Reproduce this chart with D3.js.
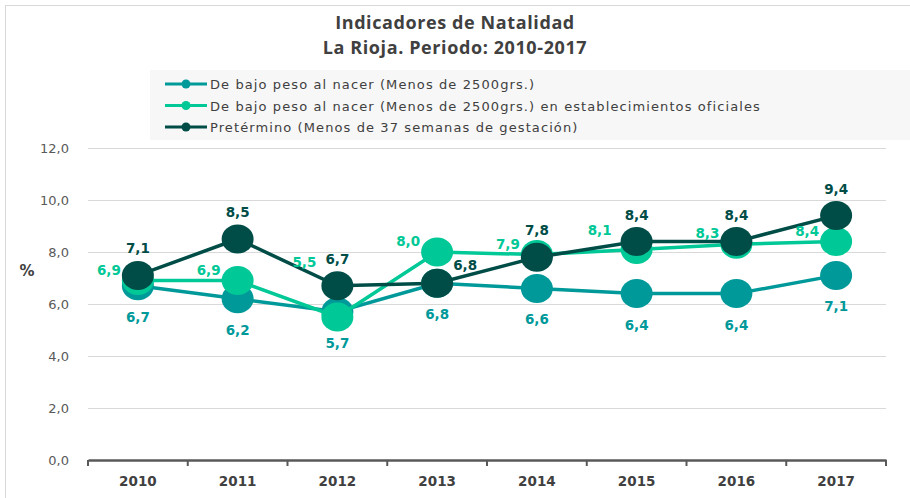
<!DOCTYPE html>
<html>
<head>
<meta charset="utf-8">
<script src="https://cdn.jsdelivr.net/npm/d3@7"></script>
<style>
  body { margin: 0; background: #fff; }
  svg { display: block; }
</style>
</head>
<body>
<div id="chart"></div>
<script>
// data
var years = ["2010", "2011", "2012", "2013", "2014", "2015", "2016", "2017"];
var bajoPeso = [6.7, 6.2, 5.7, 6.8, 6.6, 6.4, 6.4, 7.1];
var bajoPesoOficiales = [6.9, 6.9, 5.5, 8.0, 7.9, 8.1, 8.3, 8.4];
var pretermino = [7.1, 8.5, 6.7, 6.8, 7.8, 8.4, 8.4, 9.4];
var yTicks = [0, 2, 4, 6, 8, 10, 12];
var seriesNames = [
  "De bajo peso al nacer (Menos de 2500grs.)",
  "De bajo peso al nacer (Menos de 2500grs.) en establecimientos oficiales",
  "Pretérmino (Menos de 37 semanas de gestación)"
];

var W = 910, H = 498;
var margin = {top: 148, right: 24, bottom: 38, left: 88},
    width = W - margin.left - margin.right,
    height = H - margin.top - margin.bottom;

var colors = ["#00999a", "#00c896", "#004d47"];
var font = "'DejaVu Sans', Verdana, sans-serif";

var series = [
  {name: seriesNames[0], values: bajoPeso, color: colors[0], pos: "below"},
  {name: seriesNames[1], values: bajoPesoOficiales, color: colors[1], pos: "left"},
  {name: seriesNames[2], values: pretermino, color: colors[2], pos: "above"}
];

// a few labels that the original had moved by hand
var nudge = {"1-2012": [-4, -44], "1-2015": [-8, -8], "2-2013": [28, 9]};

var svg = d3.select("#chart").append("svg")
  .attr("width", W).attr("height", H);

// chart border (only top/left visible)
svg.append("rect")
  .attr("x", 5.5).attr("y", 5.5)
  .attr("width", W + 10).attr("height", H + 10)
  .attr("fill", "none").attr("stroke", "#d9d9d9");

// titles
var title = svg.append("text")
  .attr("text-anchor", "middle")
  .style("font-family", "'Open Sans', sans-serif")
  .style("font-weight", "bold")
  .style("font-size", "18px")
  .style("letter-spacing", "0.6px")
  .style("fill", "#404040");
title.append("tspan").attr("x", 455).attr("y", 29).text("Indicadores de Natalidad");
title.append("tspan").attr("x", 455).attr("y", 54).text("La Rioja. Periodo: 2010-2017");

// legend box
var legend = svg.append("g");
legend.append("rect")
  .attr("x", 150).attr("y", 70).attr("width", 760).attr("height", 70)
  .attr("fill", "#f7f7f7");
series.forEach(function(s, i) {
  var ly = 84 + i * 21.5;
  legend.append("line")
    .attr("x1", 165).attr("x2", 207).attr("y1", ly).attr("y2", ly)
    .attr("stroke", s.color).attr("stroke-width", 3);
  legend.append("circle")
    .attr("cx", 186).attr("cy", ly).attr("r", 4.5)
    .attr("fill", s.color);
  legend.append("text")
    .attr("x", 210).attr("y", ly + 5)
    .style("font-family", font)
    .style("font-size", "13px")
    .style("letter-spacing", "1.1px")
    .style("fill", "#404040")
    .text(s.name);
});

var g = svg.append("g")
  .attr("transform", "translate(" + margin.left + "," + margin.top + ")");

var x = d3.scaleBand().domain(years).range([0, width]);
var y = d3.scaleLinear().domain([0, 12]).range([height, 0]);

// gridlines
g.selectAll(".grid")
  .data(yTicks.filter(function(d) { return d > 0; }))
  .enter().append("line")
    .attr("x1", 0).attr("x2", width)
    .attr("y1", function(d) { return y(d) + 0.5; })
    .attr("y2", function(d) { return y(d) + 0.5; })
    .attr("stroke", "#d9d9d9");

// y axis labels
var yAxis = g.append("g")
  .call(d3.axisLeft(y).tickValues(yTicks).tickSize(0).tickPadding(19)
    .tickFormat(function(d) { return d3.format(".1f")(d).replace(".", ","); }));
yAxis.select(".domain").remove();
yAxis.selectAll("text")
  .style("font-family", font)
  .style("font-size", "13px")
  .style("fill", "#595959");

svg.append("text")
  .attr("x", 27).attr("y", 276)
  .attr("text-anchor", "middle")
  .style("font-family", font)
  .style("font-weight", "bold")
  .style("font-size", "15px")
  .style("fill", "#404040")
  .text("%");

// x axis
var xAxis = g.append("g")
  .attr("transform", "translate(0," + height + ")")
  .call(d3.axisBottom(x).tickSize(0).tickPadding(16));
xAxis.select(".domain").attr("stroke", "#595959").attr("stroke-width", 2.5);
xAxis.selectAll("text")
  .style("font-family", font)
  .style("font-weight", "bold")
  .style("font-size", "13.5px")
  .style("fill", "#404040");
// tick marks between categories
var bounds = years.map(function(d) { return x(d); }).concat([width]);
xAxis.selectAll(".sep")
  .data(bounds)
  .enter().append("line")
    .attr("x1", function(d) { return d; }).attr("x2", function(d) { return d; })
    .attr("y1", 0).attr("y2", 6)
    .attr("stroke", "#595959").attr("stroke-width", 2);

var cx = function(d, i) { return x(years[i]) + x.bandwidth() / 2; };

var line = d3.line()
  .x(function(d, i) { return cx(d, i); })
  .y(function(d) { return y(d); });

series.forEach(function(s, si) {
  var sg = g.append("g");
  sg.append("path")
    .datum(s.values)
    .attr("d", line)
    .attr("fill", "none")
    .attr("stroke", s.color)
    .attr("stroke-width", 3.5);

  sg.selectAll("ellipse")
    .data(s.values)
    .enter().append("ellipse")
      .attr("cx", cx)
      .attr("cy", function(d) { return y(d); })
      .attr("rx", 16).attr("ry", 14.5)
      .attr("fill", s.color);
});

// data labels on top
series.forEach(function(s, si) {
  g.selectAll(".lab" + si)
    .data(s.values)
    .enter().append("text")
      .attr("text-anchor", "middle")
      .attr("x", function(d, i) {
        var k = nudge[si + "-" + years[i]];
        var dx = s.pos === "left" ? -29 : 0;
        return cx(d, i) + dx + (k ? k[0] : 0);
      })
      .attr("y", function(d, i) {
        var k = nudge[si + "-" + years[i]];
        var dy = s.pos === "below" ? 36 : (s.pos === "above" ? -22 : -6);
        return y(d) + dy + (k ? k[1] : 0);
      })
      .style("font-family", font)
      .style("font-weight", "bold")
      .style("font-size", "13.5px")
      .style("fill", s.color)
      .text(function(d) { return d3.format(".1f")(d).replace(".", ","); });
});
</script>
</body>
</html>
